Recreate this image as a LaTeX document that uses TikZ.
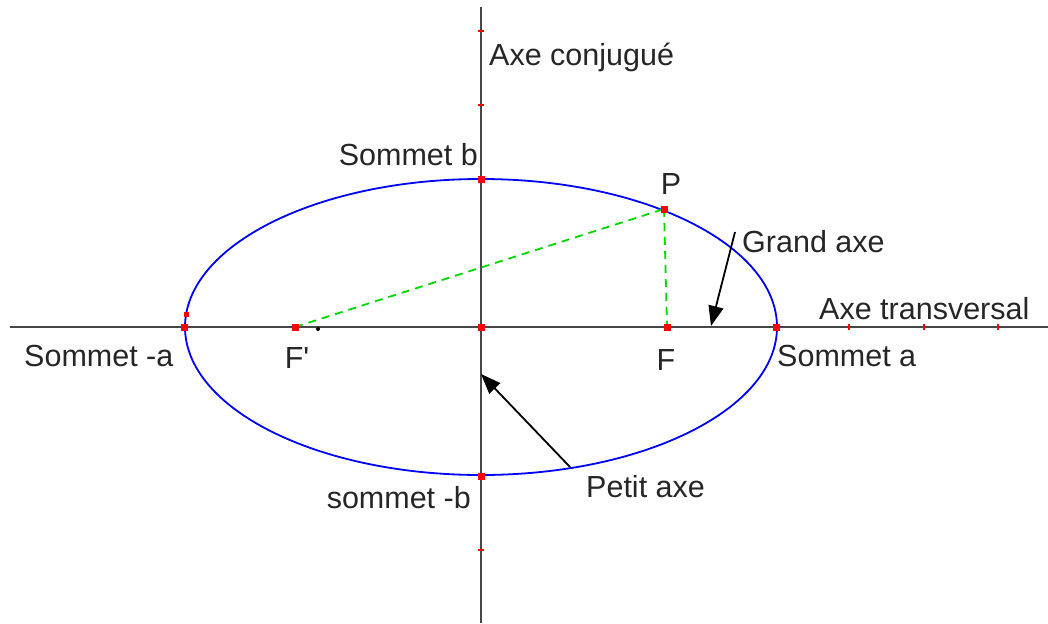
\documentclass[tikz,border=0pt]{standalone}
\usepackage{fontspec}
\setmainfont{Liberation Sans}
\newfontfamily\plainsans{Liberation Sans}
\usetikzlibrary{arrows.meta}
\begin{document}
\begin{tikzpicture}[x=1pt,y=-1pt,
  axis/.style={draw=black!72, line width=2pt},
  curve/.style={draw=blue, line width=1.8pt},
  guide/.style={draw=green!85!black, line width=1.8pt, dash pattern=on 8pt off 6pt},
  pointer/.style={draw=black, line width=1.8pt, -{Triangle[length=20pt,width=15pt]}},
  dot/.style={fill=red, inner sep=0pt, minimum size=7pt, rectangle},
  tick/.style={draw=red, line width=1.5pt},
  lbl/.style={inner sep=0pt, font=\plainsans\fontsize{30.5}{35}\selectfont, text=black!85}]
\useasboundingbox (0,0) rectangle (1048,623);
\fill[white] (0,0) rectangle (1048,623);
% axes
\coordinate (xl) at (10,327);
\coordinate (xr) at (1048,327);
\coordinate (yt) at (481,7);
\coordinate (yb) at (481,623);
\draw[axis] (xl) -- (xr);
\draw[axis] (yt) -- (yb);
% ticks
\foreach \y in {31,105,550} \draw[tick] (478,\y) -- (484,\y);
\foreach \x in {849,924,998} \draw[tick] (\x,324) -- (\x,330);
% ellipse
\coordinate (O) at (481,327);
\draw[curve] (O) ellipse [x radius=296pt, y radius=148pt];
% points
\coordinate (P) at (664,209);
\coordinate (F) at (667,327);
\coordinate (Fp) at (295,327);
\coordinate (Sa) at (776,327);
\coordinate (Sma) at (184,327);
\coordinate (Sb) at (481,179);
\coordinate (Smb) at (481,476);
% green construction
\draw[guide] (Fp) -- (P);
\draw[guide] (P) -- (F);
% dots
\foreach \p in {P,F,Fp,Sa,Sma,Sb,Smb,O} \node[dot] at (\p) {};
\node[dot, minimum size=5pt] at (186,314) {};
\node[fill=black, circle, inner sep=0pt, minimum size=4pt] at (318,329) {};
% labels
\node[lbl, anchor=west] (conj) at (489,57) {Axe conjugué};
\node[lbl, anchor=east] (lb) at (478,155) {Sommet b};
\node[lbl] (lP) at (671,184) {P};
\node[lbl, anchor=west] (lga) at (742,242) {Grand axe};
\node[lbl, anchor=west] (ltr) at (819,309) {Axe transversal};
\node[lbl, anchor=west] (lma) at (24,356) {Sommet -a};
\node[lbl] (lFp) at (297,358) {F'};
\node[lbl] (lF) at (666,360) {F};
\node[lbl, anchor=west] (la) at (777,356) {Sommet a};
\node[lbl, anchor=east] (lmb) at (471,498) {sommet -b};
\node[lbl, anchor=west] (lpa) at (586,487) {Petit axe};
% pointers
\coordinate (ga0) at (735,232);
\coordinate (ga1) at (711,326);
\coordinate (pa0) at (570,467);
\coordinate (pa1) at (481,374);
\draw[pointer] (ga0) -- (ga1);
\draw[pointer] (pa0) -- (pa1);
\end{tikzpicture}
\end{document}
